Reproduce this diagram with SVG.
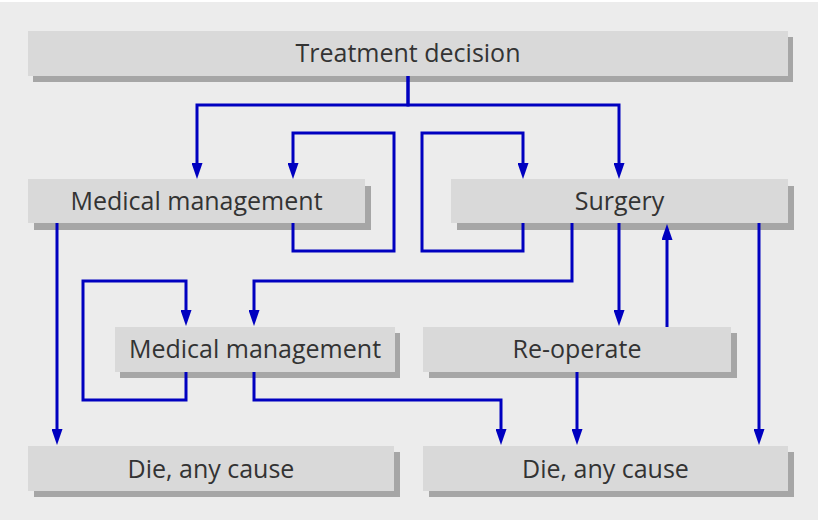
<svg xmlns="http://www.w3.org/2000/svg" width="820" height="520" viewBox="0 0 820 520">
  <style>
    .bg { fill: #ececec; }
    .box { fill: #d9d9d9; }
    .shadow { fill: #a6a6a6; }
    .label { font-family: "Open Sans", "Noto Sans", sans-serif; font-size: 25px; fill: #333333; text-anchor: middle; }
    .conn { fill: none; stroke: #0000c0; stroke-width: 3; stroke-linejoin: miter; marker-end: url(#arrow); }
  </style>
  <defs>
    <marker id="arrow" markerUnits="userSpaceOnUse" viewBox="0 0 16 11" markerWidth="16" markerHeight="11" refX="8" refY="5.5" orient="auto">
      <path d="M0,0 L16,5.5 L0,11 z" fill="#0000c0"/>
    </marker>
  </defs>
  <rect class="bg" x="0" y="2" width="818" height="518"/>

  <g id="treatment">
    <rect class="shadow" x="33" y="37" width="760" height="45"/>
    <rect class="box" x="28" y="31" width="760" height="45"/>
    <text class="label" x="408" y="62">Treatment decision</text>
  </g>
  <g id="medical1">
    <rect class="shadow" x="34" y="186" width="337" height="44"/>
    <rect class="box" x="28" y="179" width="337" height="44"/>
    <text class="label" x="196.5" y="210">Medical management</text>
  </g>
  <g id="surgery">
    <rect class="shadow" x="457" y="186" width="337" height="44"/>
    <rect class="box" x="451" y="179" width="337" height="44"/>
    <text class="label" x="619.5" y="210">Surgery</text>
  </g>
  <g id="medical2">
    <rect class="shadow" x="120" y="333" width="280" height="45"/>
    <rect class="box" x="115" y="327" width="280" height="45"/>
    <text class="label" x="255" y="358">Medical management</text>
  </g>
  <g id="reoperate">
    <rect class="shadow" x="429" y="333" width="308" height="45"/>
    <rect class="box" x="423" y="327" width="308" height="45"/>
    <text class="label" x="577" y="358">Re-operate</text>
  </g>
  <g id="die1">
    <rect class="shadow" x="34" y="452" width="366" height="45"/>
    <rect class="box" x="28" y="446" width="366" height="45"/>
    <text class="label" x="211" y="477.5">Die, any cause</text>
  </g>
  <g id="die2">
    <rect class="shadow" x="429" y="452" width="365" height="45"/>
    <rect class="box" x="423" y="446" width="365" height="45"/>
    <text class="label" x="605.5" y="477.5">Die, any cause</text>
  </g>

  <g id="connectors">
    <path class="conn" d="M408,76 V105 H197 V171"/>
    <path class="conn" d="M408,76 V105 H619 V171"/>
    <path class="conn" d="M293,223 V251 H394 V133 H293 V171"/>
    <path class="conn" d="M523,223 V251 H422 V133 H523 V171"/>
    <path class="conn" d="M57,223 V437"/>
    <path class="conn" d="M572,223 V281 H254 V318"/>
    <path class="conn" d="M186,372 V400 H83 V281 H186 V318"/>
    <path class="conn" d="M254,372 V400 H501 V437"/>
    <path class="conn" d="M619,223 V318"/>
    <path class="conn" d="M667,327 V232"/>
    <path class="conn" d="M577,372 V437"/>
    <path class="conn" d="M759,223 V437"/>
  </g>
</svg>
